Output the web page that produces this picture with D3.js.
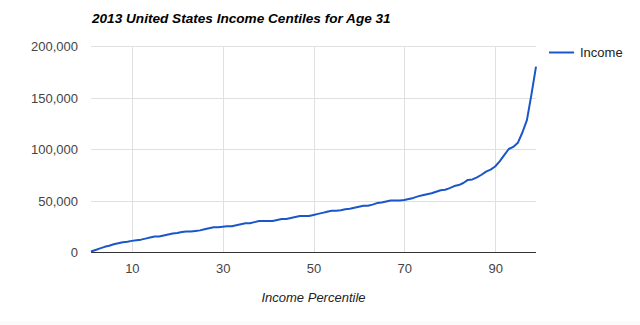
<!DOCTYPE html>
<html>
<head>
<meta charset="utf-8">
<script src="https://cdn.jsdelivr.net/npm/d3@7"></script>
<style>
  html, body { margin: 0; padding: 0; background: #fff; }
  svg { display: block; font-family: "Liberation Sans", Arial, sans-serif; }
</style>
</head>
<body>
<div id="chart"></div>
<script>
// Income by percentile (1st..99th), US 2013, age 31
const percentiles = d3.range(1, 100);
const income = [
  500, 2000, 3500, 5000, 6000, 7500, 8500, 9500, 10000, 10800,
  11500, 12000, 13000, 14000, 15000, 15000, 16000, 17000, 18000, 18500,
  19500, 20000, 20000, 20500, 21000, 22000, 23000, 24000, 24000, 24500,
  25000, 25000, 26000, 27000, 28000, 28000, 29000, 30000, 30000, 30000,
  30000, 31000, 32000, 32000, 33000, 34000, 35000, 35000, 35000, 36000,
  37000, 38000, 39000, 40000, 40000, 40500, 41500, 42000, 43000, 44000,
  45000, 45000, 46000, 47500, 48000, 49000, 50000, 50000, 50000, 50500,
  51500, 52500, 54000, 55000, 56000, 57000, 58500, 60000, 60500, 62000,
  64000, 65000, 67000, 70000, 70500, 72500, 75000, 78000, 80000, 83000,
  88000, 94000, 100000, 102000, 106000, 116000, 128000, 153000, 180000
];
const xTicks = [10, 30, 50, 70, 90];
const yTicks = [0, 50000, 100000, 150000, 200000];
const seriesName = "Income";
const titleText = "2013 United States Income Centiles for Age 31";
const xTitle = "Income Percentile";

const W = 640, H = 325;
const plot = { left: 91, right: 536, top: 46, bottom: 252 };

const svg = d3.select("#chart").append("svg")
  .attr("width", W).attr("height", H);

// light footer band
svg.append("rect").attr("x", 0).attr("y", 321).attr("width", W).attr("height", H - 321)
  .attr("fill", "#fafafa");

const x = d3.scaleLinear().domain([1, 99]).range([plot.left, plot.right]);
const y = d3.scaleLinear().domain([0, 200000]).range([plot.bottom, plot.top]);

// horizontal gridlines + labels
const yAxis = d3.axisLeft(y).tickValues(yTicks)
  .tickFormat(d3.format(",")).tickSize(-(plot.right - plot.left)).tickPadding(13);
const gy = svg.append("g").attr("transform", `translate(${plot.left},0)`).call(yAxis);
gy.select(".domain").remove();
gy.selectAll("line").attr("stroke", "#e0e0e0").attr("stroke-width", 1).attr("shape-rendering", "crispEdges");
gy.selectAll("text").attr("fill", "#444").attr("font-size", 13).attr("dy", "0.35em");

// vertical gridlines + labels
const xAxis = d3.axisBottom(x).tickValues(xTicks)
  .tickSize(-(plot.bottom - plot.top)).tickPadding(12);
const gx = svg.append("g").attr("transform", `translate(0,${plot.bottom})`).call(xAxis);
gx.select(".domain").remove();
gx.selectAll("line").attr("stroke", "#e0e0e0").attr("stroke-width", 1).attr("shape-rendering", "crispEdges");
gx.selectAll("text").attr("fill", "#444").attr("font-size", 13).attr("dy", "0.71em");

// baseline
svg.append("line")
  .attr("x1", plot.left).attr("x2", plot.right)
  .attr("y1", y(0)).attr("y2", y(0))
  .attr("stroke", "#333").attr("stroke-width", 1).attr("shape-rendering", "crispEdges");

// income line
const line = d3.line().x((d, i) => x(percentiles[i])).y(d => y(d));
svg.append("path").datum(income)
  .attr("d", line)
  .attr("fill", "none")
  .attr("stroke", "#1a56c9")
  .attr("stroke-width", 2)
  .attr("stroke-linejoin", "round");

// title
svg.append("text")
  .attr("x", 92).attr("y", 23)
  .attr("font-size", 13.6).attr("font-weight", "bold").attr("font-style", "italic")
  .attr("fill", "#000").text(titleText);

// x axis title
svg.append("text")
  .attr("x", (plot.left + plot.right) / 2).attr("y", 302)
  .attr("text-anchor", "middle").attr("font-size", 13).attr("font-style", "italic")
  .attr("fill", "#222").text(xTitle);

// legend
const lg = svg.append("g");
lg.append("line").attr("x1", 549).attr("x2", 574).attr("y1", 52.5).attr("y2", 52.5)
  .attr("stroke", "#1a56c9").attr("stroke-width", 2);
lg.append("text").attr("x", 580).attr("y", 57).attr("font-size", 13)
  .attr("fill", "#222").text(seriesName);
</script>
</body>
</html>
